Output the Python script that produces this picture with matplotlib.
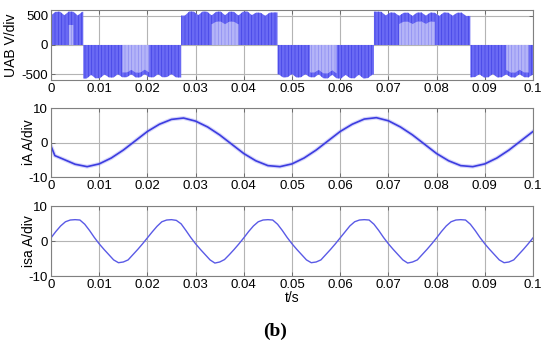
import numpy as np
import matplotlib.pyplot as plt

plt.rcParams['font.family'] = ['Liberation Sans', 'DejaVu Sans']
plt.rcParams['hatch.linewidth'] = 0.5
plt.rcParams['axes.unicode_minus'] = False

# ось времени
t_ticks = [0, 0.01, 0.02, 0.03, 0.04, 0.05, 0.06, 0.07, 0.08, 0.09, 0.1]
t_labels = ['0', '0.01', '0.02', '0.03', '0.04', '0.05', '0.06', '0.07', '0.08', '0.09', '0.1']

# UAB: полупериоды ШИМ и огибающая (по модулю)
uab_edges = [0, 0.0067, 0.027, 0.047, 0.067, 0.087, 0.1]
uab_sign = [1, -1, 1, -1, 1, -1]
uab_env = [
	508, 568, 572, 510, 574, 570, 506, 568, 575, 512, 572, 568,
	505, 556, 558, 500, 554, 552, 502, 557, 555, 498, 552, 555,
	500, 554, 550, 498, 555, 558, 504, 575, 572, 512, 574, 570,
	508, 568, 574, 510, 572, 568, 506, 570, 575, 512, 556, 552,
	500, 554, 558, 502, 556, 552, 498, 557, 554, 500, 552, 555,
	502, 570, 574, 510, 572, 575, 512, 568, 572, 508, 574, 568,
	508, 572, 570, 506, 557, 554, 500, 552, 555, 498, 554, 558,
	503, 556, 552, 498, 557, 554, 502, 552, 555, 498, 554, 550,
	500, 557, 554, 497, 556, 552, 502, 554, 557, 498, 552, 555,
	503,
]
# светлые участки (редкие импульсы)
light_start = [0.0035, 0.014, 0.033, 0.0533, 0.0714, 0.0936]
light_end = [0.0055, 0.021, 0.0396, 0.0595, 0.0805, 0.0995]
light_depth = [0.6, 0.85, 0.7, 0.85, 0.72, 0.85]

# iA
ia_t = [0, 0.0008, 0.0025, 0.005, 0.0075, 0.01, 0.0125, 0.015, 0.0175, 0.02,
	0.0225, 0.025, 0.0275, 0.03, 0.0325, 0.035, 0.0375, 0.04, 0.0425, 0.045,
	0.0475, 0.05, 0.0525, 0.055, 0.0575, 0.06, 0.0625, 0.065, 0.0675, 0.07,
	0.0725, 0.075, 0.0775, 0.08, 0.0825, 0.085, 0.0875, 0.09, 0.0925, 0.095,
	0.0975, 0.1]
ia = [-1.0, -3.8, -4.8, -6.3, -7.0, -6.2, -4.5, -2.2, 0.5, 3.2,
	5.3, 6.7, 7.1, 6.2, 4.5, 2.2, -0.5, -3.2, -5.3, -6.7,
	-7.0, -6.2, -4.5, -2.2, 0.5, 3.2, 5.3, 6.8, 7.2, 6.3,
	4.5, 2.2, -0.5, -3.2, -5.3, -6.7, -7.0, -6.2, -4.5, -2.2,
	0.5, 3.2]

# isa, шаг 1 мс
isa = [
	0.9, 2.7, 4.3, 5.5, 6.0, 6.1, 6.0, 4.8, 3.0, 1.0,
	-0.8, -2.4, -3.9, -5.4, -6.2, -6.0, -5.4, -3.9, -2.4, -0.8,
	0.9, 2.6, 4.2, 5.5, 6.0, 6.1, 5.9, 4.9, 3.0, 1.0,
	-0.8, -2.4, -3.9, -5.4, -6.3, -6.0, -5.3, -3.9, -2.4, -0.8,
	0.9, 2.7, 4.3, 5.5, 6.0, 6.1, 6.0, 4.8, 3.0, 1.0,
	-0.8, -2.4, -3.9, -5.4, -6.2, -6.0, -5.4, -3.9, -2.4, -0.8,
	0.9, 2.6, 4.3, 5.5, 6.0, 6.1, 6.0, 4.8, 3.0, 1.0,
	-0.8, -2.4, -3.9, -5.4, -6.3, -6.0, -5.4, -3.9, -2.4, -0.8,
	0.9, 2.7, 4.3, 5.5, 6.0, 6.1, 6.0, 4.8, 3.0, 1.0,
	-0.8, -2.4, -3.9, -5.4, -6.2, -6.0, -5.4, -3.9, -2.4, -0.8,
	0.9,
]
isa_t = np.linspace(0, 0.1, len(isa))


def style(ax, ylim, yticks, ylabel, lab_x, xlabel=None):
	ax.set_xlim(0, 0.1)
	ax.set_ylim(*ylim)
	ax.set_xticks(t_ticks)
	ax.set_xticklabels(t_labels)
	ax.set_yticks(yticks)
	ax.set_ylabel(ylabel, fontsize=10, va='center')
	ax.yaxis.set_label_coords(lab_x, 0.5)
	if xlabel:
		ax.set_xlabel(xlabel, fontsize=10, labelpad=0)
	ax.grid(True, color='#b4b4b4', lw=0.8)
	ax.set_axisbelow(True)
	ax.tick_params(direction='in', length=3, width=0.6, color='#606060',
		labelsize=9.5, pad=2, top=True, right=True)
	for s in ax.spines.values():
		s.set_color('#808080')
		s.set_linewidth(0.8)


fig = plt.figure(figsize=(5.5, 3.47), dpi=100)
ax1 = fig.add_axes([0.0927, 0.7695, 0.8764, 0.2017])
ax2 = fig.add_axes([0.0927, 0.4899, 0.8764, 0.1988])
ax3 = fig.add_axes([0.0927, 0.2046, 0.8764, 0.2017])

# UAB
env = np.array(uab_env, dtype=float)
t_env = np.linspace(0, 0.1, len(env))
for i, sg in enumerate(uab_sign):
	a, b = uab_edges[i], uab_edges[i + 1]
	m = (t_env >= a) & (t_env <= b)
	ts = np.r_[a, t_env[m], b]
	vs = np.r_[env[m][0], env[m], env[m][-1]] * sg
	ax1.fill_between(ts, 0, vs, facecolor='#6a6af4', edgecolor='#4242e4',
		hatch='|||||', lw=0)
	for a2, b2, d in zip(light_start, light_end, light_depth):
		if a2 >= a and b2 <= b:
			m2 = (t_env >= a2) & (t_env <= b2)
			ax1.fill_between(t_env[m2], 0, env[m2] * sg * d, facecolor='#b4b4f8',
				edgecolor='#8c8cf2', hatch='|||||', lw=0)
style(ax1, (-600, 600), [-500, 0, 500], 'UAB V/div', -0.082)

# iA
ax2.plot(ia_t, ia, color='#7a7af2', lw=2.8, alpha=0.3)
ax2.plot(ia_t, ia, color='#3c3ce0', lw=1.2)
style(ax2, (-10, 10), [-10, 0, 10], 'iA A/div', -0.046)

# isa
ax3.plot(isa_t, isa, color='#5a5ae6', lw=1.0)
style(ax3, (-10, 10), [-10, 0, 10], 'isa A/div', -0.046, 't/s')

fig.text(0.5, 0.045, '(b)', ha='center', va='center', fontsize=14,
	fontweight='bold', family=['Liberation Serif', 'DejaVu Serif'])

fig.savefig('out.png', dpi=100)
